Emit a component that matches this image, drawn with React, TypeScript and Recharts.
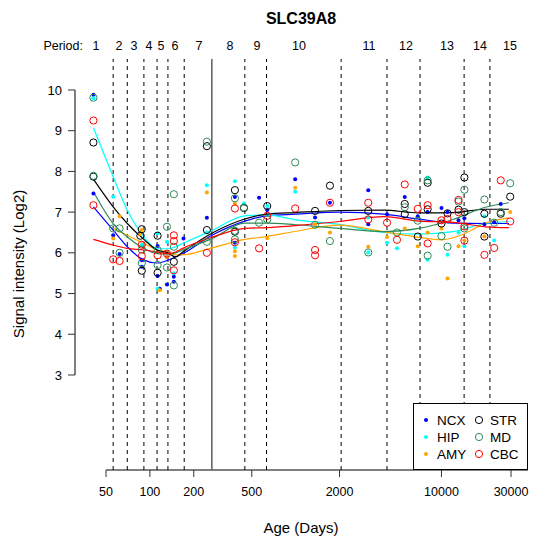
import { ComposedChart, XAxis, YAxis, Scatter, Line, ReferenceLine } from "recharts";

// plot window (log10 x), matched to the R device region
const X_MIN = 30.65;
const X_MAX = 39220;
const Y_MIN = 0.666;
const Y_MAX = 10.761;

const X_TICKS = [50, 100, 200, 500, 2000, 10000, 30000];
const Y_TICKS = [3, 4, 5, 6, 7, 8, 9, 10];

const PERIOD_BOUNDS = [56, 70, 91, 112, 133, 172, 448, 631, 2050, 4230, 7130, 14300, 21500];
const BIRTH = 266;
const PERIOD_CENTERS = [42.7, 61.4, 77.8, 98.6, 119.2, 148.7, 217, 354, 543, 1054, 3182, 5713, 10910, 18370, 29500];
const PERIOD_LABELS = ["1", "2", "3", "4", "5", "6", "7", "8", "9", "10", "11", "12", "13", "14", "15"];

// sample points [age in days, log2 signal]
const NCX_PTS: [number, number][] = [
  [41, 9.88], [41, 7.46], [56, 6.43], [62, 5.97], [88, 5.82], [88, 5.66], [113, 6.17], [113, 5.43],
  [117, 5.12], [131, 5.9], [131, 5.22], [146, 5.41], [146, 5.29], [170, 6.35], [246, 6.86], [383, 6.25],
  [383, 7.37], [561, 7.35], [638, 7.05], [992, 7.81], [1358, 6.87], [1718, 7.23], [3146, 7.54], [3146, 6.7],
  [4233, 6.95], [5600, 7.37], [6880, 6.9], [8040, 7.0], [10000, 7.1], [11000, 7.0], [13090, 6.8],
  [14360, 6.85], [19700, 6.7], [23000, 6.75], [25500, 7.2],
];
const HIP_PTS: [number, number][] = [
  [41, 9.8], [56, 7.38], [88, 6.2], [113, 6.48], [113, 5.12], [131, 6.27], [146, 5.5], [246, 7.66],
  [246, 6.5], [383, 7.76], [383, 6.13], [442, 7.21], [638, 7.15], [992, 7.5], [3146, 6.87], [3146, 6.01],
  [4233, 6.25], [4951, 6.11], [8040, 7.85], [8040, 5.83], [11000, 5.95], [13090, 6.5], [14360, 6.16],
  [19700, 6.9], [23000, 6.3],
];
const AMY_PTS: [number, number][] = [
  [56, 6.35], [62, 6.9], [88, 6.56], [86, 6.46], [117, 5.08], [131, 5.9], [246, 7.48], [383, 6.04],
  [383, 5.92], [383, 7.21], [638, 6.36], [992, 7.6], [1358, 6.7], [1718, 6.5], [3146, 6.15], [4233, 6.39],
  [5600, 6.6], [6880, 6.16], [8040, 6.5], [10000, 6.6], [11000, 5.37], [13090, 6.16], [14360, 6.3],
  [19700, 6.4], [29600, 7.0],
];
const STR_PTS: [number, number][] = [
  [41, 8.71], [41, 7.87], [88, 6.58], [86, 6.42], [88, 5.56], [113, 6.42], [113, 5.51], [146, 5.78],
  [246, 8.62], [246, 6.56], [383, 7.54], [383, 6.52], [442, 7.1], [638, 7.15], [1358, 7.03], [1718, 7.65],
  [3146, 7.03], [5600, 7.2], [5600, 6.95], [6880, 6.4], [8040, 7.72], [8040, 7.07], [10000, 6.72],
  [11000, 6.97], [13090, 7.06], [14360, 7.85], [14360, 7.0], [19700, 6.96], [19700, 6.4], [25500, 6.96],
  [29600, 7.38],
];
const MD_PTS: [number, number][] = [
  [41, 9.81], [41, 7.89], [56, 6.6], [62, 6.6], [62, 6.0], [88, 6.08], [88, 5.75], [113, 6.07],
  [113, 5.7], [131, 6.64], [131, 5.64], [146, 7.44], [146, 6.15], [146, 5.2], [246, 8.73], [246, 6.27],
  [383, 7.34], [383, 6.54], [383, 6.33], [442, 7.11], [561, 6.74], [638, 6.82], [992, 8.22], [1358, 6.69],
  [1718, 6.29], [3146, 6.01], [4951, 6.5], [5600, 7.12], [6880, 6.79], [8040, 7.78], [8040, 5.93],
  [10000, 6.41], [11000, 6.15], [13090, 7.26], [14360, 7.55], [14360, 6.6], [19700, 7.31], [23000, 6.74],
  [25500, 7.0], [29600, 7.71],
];
const CBC_PTS: [number, number][] = [
  [41, 9.25], [41, 7.17], [56, 5.84], [62, 5.8], [88, 6.2], [88, 5.92], [113, 5.94], [131, 5.98],
  [146, 6.43], [146, 6.29], [146, 5.57], [246, 6.0], [383, 7.09], [383, 6.26], [561, 6.11], [638, 6.91],
  [992, 7.09], [1358, 6.07], [1358, 5.94], [1718, 7.23], [3146, 7.23], [3146, 6.82], [4233, 6.74],
  [4951, 6.32], [5600, 7.68], [6880, 7.08], [8040, 7.17], [8040, 6.23], [10000, 6.8], [11000, 6.83],
  [13090, 7.0], [13090, 7.3], [14360, 6.65], [14360, 6.3], [19700, 5.95], [23000, 6.12], [25500, 7.78],
  [29600, 6.77],
];

// loess fits
const NCX_FIT: [number, number][] = [
  [41, 7.13], [56, 6.56], [70, 6.15], [91, 5.82], [112, 5.75], [133, 5.82], [150, 5.9], [168, 5.98],
  [266, 6.43], [448, 6.78], [631, 6.91], [1000, 6.95], [2000, 7.0], [4000, 6.95], [7000, 6.83],
  [12000, 6.73], [20000, 6.72], [29000, 6.72],
];
const HIP_FIT: [number, number][] = [
  [41, 9.07], [56, 7.87], [70, 7.05], [91, 6.39], [112, 6.1], [133, 6.1], [150, 6.15], [168, 6.23],
  [266, 6.55], [448, 6.91], [631, 6.93], [1000, 6.81], [2000, 6.7], [4000, 6.5], [7000, 6.46],
  [12000, 6.52], [20000, 6.72], [29000, 6.77],
];
const AMY_FIT: [number, number][] = [
  [56, 6.6], [70, 6.43], [91, 6.23], [112, 6.07], [133, 6.02], [150, 5.95], [168, 5.95], [266, 6.12],
  [448, 6.33], [631, 6.4], [1000, 6.53], [2000, 6.68], [4000, 6.52], [7000, 6.38], [10000, 6.32],
  [14000, 6.45], [20000, 6.73], [29000, 6.86],
];
const STR_FIT: [number, number][] = [
  [41, 7.81], [56, 7.13], [70, 6.72], [91, 6.33], [112, 6.07], [133, 6.0], [150, 5.9], [168, 6.02],
  [266, 6.48], [448, 6.83], [631, 6.95], [1000, 6.99], [2000, 7.04], [4000, 7.05], [7000, 6.98],
  [12000, 6.99], [20000, 7.07], [29000, 7.07],
];
const MD_FIT: [number, number][] = [
  [41, 7.5], [56, 6.72], [70, 6.39], [91, 6.11], [112, 5.98], [133, 5.97], [150, 6.0], [168, 6.07],
  [266, 6.35], [448, 6.73], [631, 6.73], [1000, 6.69], [2000, 6.6], [4000, 6.52], [7000, 6.6],
  [12000, 6.82], [20000, 7.12], [29000, 7.23],
];
const CBC_FIT: [number, number][] = [
  [41, 6.33], [56, 6.19], [70, 6.11], [91, 6.07], [112, 6.02], [133, 5.98], [150, 6.02], [168, 6.11],
  [266, 6.38], [448, 6.6], [631, 6.62], [1000, 6.67], [2000, 6.77], [4000, 6.89], [7000, 6.78],
  [12000, 6.75], [20000, 6.64], [29000, 6.62],
];

const REGIONS = ["NCX", "HIP", "AMY", "STR", "MD", "CBC"];
const COLORS = ["#0000ff", "#00ffff", "#ffa500", "#000000", "#2e8b57", "#ff0000"];
const FILLED = [true, true, true, false, false, false];
const POINTS = [NCX_PTS, HIP_PTS, AMY_PTS, STR_PTS, MD_PTS, CBC_PTS];
const FITS = [NCX_FIT, HIP_FIT, AMY_FIT, STR_FIT, MD_FIT, CBC_FIT];

const FONT = "'Liberation Sans', Arial, Helvetica, sans-serif";

const rows = (pairs: [number, number][]) => pairs.map(([age, v]) => ({ age, v }));

function dotShape(color: string, filled: boolean) {
  return (p: any) =>
    filled ? (
      <circle cx={p.cx} cy={p.cy} r={2} fill={color} stroke="none" />
    ) : (
      <circle cx={p.cx} cy={p.cy} r={3.6} fill="none" stroke={color} strokeWidth={1} />
    );
}

function Overlay() {
  return (
    <svg width={535} height={545} style={{ position: "absolute", left: 0, top: 0, pointerEvents: "none" }} fontFamily={FONT}>
      <text x={301} y={24} textAnchor="middle" fontSize={16} fontWeight="bold" fill="#000">SLC39A8</text>
      <text x={83} y={50} textAnchor="end" fontSize={12.5} fill="#000">Period:</text>
      <text x={301} y={533} textAnchor="middle" fontSize={15} fill="#000">Age (Days)</text>
      <text x={24} y={264} textAnchor="middle" fontSize={15} fill="#000" transform="rotate(-90 24 264)">
        Signal intensity (Log2)
      </text>
      <rect x={413.5} y={403.5} width={114} height={66} fill="#fff" stroke="#000" />
      {REGIONS.map((name, i) => {
        const col = Math.floor(i / 3);
        const row = i % 3;
        const sx = col === 0 ? 426 : 479;
        const sy = 420 + row * 17;
        return (
          <g key={name}>
            {FILLED[i] ? (
              <circle cx={sx} cy={sy} r={2} fill={COLORS[i]} />
            ) : (
              <circle cx={sx} cy={sy} r={3.6} fill="none" stroke={COLORS[i]} />
            )}
            <text x={sx + 11} y={sy + 5} fontSize={13.5} fill="#000">{name}</text>
          </g>
        );
      })}
    </svg>
  );
}

export default function App() {
  return (
    <div style={{ position: "absolute", left: 0, top: 0, width: 535, height: 545, background: "#fff" }}>
      <ComposedChart width={535} height={545} margin={{ top: 59, right: 7, bottom: 35, left: 15 }} style={{ fontFamily: FONT }}>
        <XAxis
          type="number"
          dataKey="age"
          scale="log"
          domain={[X_MIN, X_MAX]}
          allowDataOverflow
          ticks={X_TICKS}
          interval={0}
          axisLine={false}
          tickLine={{ stroke: "#333" }}
          tickSize={7}
          tickMargin={10}
          height={40}
          tick={{ fill: "#000", fontSize: 12.5 }}
        />
        <YAxis
          type="number"
          dataKey="v"
          domain={[Y_MIN, Y_MAX]}
          allowDataOverflow
          ticks={Y_TICKS}
          interval={0}
          axisLine={false}
          tickLine={{ stroke: "#333" }}
          tickSize={7}
          tickMargin={6}
          width={60}
          tick={{ fill: "#000", fontSize: 13 }}
        />
        <ReferenceLine segment={[{ x: X_MIN, y: 3 }, { x: X_MIN, y: 10 }]} stroke="#000" ifOverflow="visible" />
        <ReferenceLine segment={[{ x: 50, y: Y_MIN }, { x: X_MAX, y: Y_MIN }]} stroke="#000" ifOverflow="visible" />
        {PERIOD_BOUNDS.map((b) => (
          <ReferenceLine key={"b" + b} x={b} stroke="#000" strokeDasharray="4 4" />
        ))}
        <ReferenceLine x={BIRTH} stroke="#666" strokeWidth={1.6} />
        {PERIOD_CENTERS.map((c, i) => (
          <ReferenceLine
            key={"c" + c}
            x={c}
            stroke="none"
            label={{ value: PERIOD_LABELS[i], position: "top", offset: 9, fill: "#000", fontSize: 12.5 }}
          />
        ))}
        {REGIONS.map((name, i) => (
          <Scatter
            key={"s" + name}
            data={rows(POINTS[i])}
            dataKey="v"
            shape={dotShape(COLORS[i], FILLED[i])}
            isAnimationActive={false}
          />
        ))}
        {REGIONS.map((name, i) => (
          <Line
            key={"l" + name}
            data={rows(FITS[i])}
            dataKey="v"
            type="monotone"
            stroke={COLORS[i]}
            strokeWidth={1.2}
            dot={false}
            activeDot={false}
            isAnimationActive={false}
          />
        ))}
      </ComposedChart>
      <Overlay />
    </div>
  );
}
